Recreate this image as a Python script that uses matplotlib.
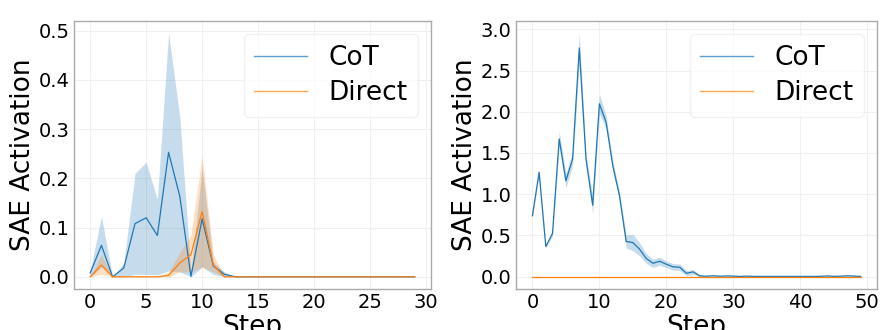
import numpy as np
import matplotlib
matplotlib.use("Agg")
import matplotlib.pyplot as plt

# ---- Left panel: 30 steps ----
steps_a = list(range(30))
cot_mean_a = [0.008, 0.064, 0.0, 0.018, 0.108, 0.120, 0.084, 0.253, 0.164, 0.001,
              0.118, 0.022, 0.005, 0.0] + [0.0] * 16
cot_lo_a = [0.0, 0.020, 0.0, 0.0, 0.005, 0.005, 0.004, 0.012, 0.010, 0.0,
            0.020, 0.005, 0.0, 0.0] + [0.0] * 16
cot_hi_a = [0.012, 0.123, 0.0, 0.028, 0.210, 0.233, 0.157, 0.495, 0.326, 0.010,
            0.220, 0.030, 0.010, 0.0] + [0.0] * 16
dir_mean_a = [0.0, 0.024, 0.0, 0.0, 0.0, 0.0, 0.0, 0.003, 0.028, 0.045,
              0.133, 0.024, 0.0] + [0.0] * 17
dir_lo_a = [0.0, 0.005, 0.0, 0.0, 0.0, 0.0, 0.0, 0.0, 0.010, 0.010,
            0.020, 0.010, 0.0] + [0.0] * 17
dir_hi_a = [0.0, 0.045, 0.0, 0.0, 0.0, 0.0, 0.0, 0.010, 0.050, 0.085,
            0.245, 0.045, 0.0] + [0.0] * 17

# ---- Right panel: 50 steps ----
steps_b = list(range(50))
cot_mean_b = [0.738, 1.265, 0.365, 0.523, 1.670, 1.163, 1.427, 2.773, 1.427, 0.867,
              2.096, 1.873, 1.346, 0.981, 0.426, 0.413, 0.332, 0.219, 0.162, 0.186,
              0.150, 0.118, 0.113, 0.040, 0.057, 0.008, 0.005, 0.010, 0.005, 0.008,
              0.006, 0.002, 0.006, 0.002, 0.002, 0.002, 0.002, 0.002, 0.002, 0.002,
              0.002, 0.002, 0.002, 0.003, 0.008, 0.003, 0.005, 0.010, 0.006, 0.002]
cot_err_b = [0.02, 0.03, 0.02, 0.03, 0.09, 0.09, 0.08, 0.18, 0.06, 0.10,
             0.12, 0.08, 0.06, 0.05, 0.08, 0.10, 0.08, 0.06, 0.05, 0.05,
             0.04, 0.04, 0.04, 0.03, 0.03, 0.01] + [0.005] * 24
dir_mean_b = [0.0] * 50
dir_err_b = [0.0] * 50

BLUE = "#1f77b4"
ORANGE = "#ff7f0e"

fig = plt.figure(figsize=(8.96, 3.30), dpi=100)
ax1 = fig.add_axes([0.0826, 0.1242, 0.3984, 0.8122])
ax2 = fig.add_axes([0.5759, 0.1242, 0.4029, 0.8122])


def style(ax):
    ax.grid(True, color="#f0f0f0", linewidth=0.8)
    ax.set_axisbelow(True)
    for s in ax.spines.values():
        s.set_color("#aaaaaa")
        s.set_linewidth(1.0)
    ax.tick_params(axis="both", length=0, pad=3, labelsize=14)
    ax.set_xlabel("Step", fontsize=19, labelpad=1)
    ax.set_ylabel("SAE Activation", fontsize=19, labelpad=2)
    leg = ax.legend(loc="upper right", fontsize=19, handlelength=2.0,
                    borderpad=0.4, labelspacing=0.35, handletextpad=0.8,
                    borderaxespad=0.5, framealpha=0.8, fancybox=True)
    leg.get_frame().set_edgecolor("#eeeeee")
    for line in leg.get_lines():
        line.set_linewidth(1.0)
        line.set_alpha(0.7)


# Left panel
ax1.fill_between(steps_a, cot_lo_a, cot_hi_a, color=BLUE, alpha=0.25, linewidth=0)
ax1.fill_between(steps_a, dir_lo_a, dir_hi_a, color=ORANGE, alpha=0.25, linewidth=0)
ax1.plot(steps_a, cot_mean_a, color=BLUE, lw=0.9, label="CoT")
ax1.plot(steps_a, dir_mean_a, color=ORANGE, lw=0.9, label="Direct")
ax1.set_xticks(range(0, 31, 5))
ax1.set_yticks(np.arange(0, 0.51, 0.1))
ax1.yaxis.set_major_formatter(matplotlib.ticker.FormatStrFormatter("%.1f"))
style(ax1)

# Right panel
cm = np.array(cot_mean_b)
ce = np.array(cot_err_b)
dm = np.array(dir_mean_b)
de = np.array(dir_err_b)
ax2.fill_between(steps_b, cm - ce, cm + ce, color=BLUE, alpha=0.25, linewidth=0)
ax2.fill_between(steps_b, dm - de, dm + de, color=ORANGE, alpha=0.25, linewidth=0)
ax2.plot(steps_b, cm, color=BLUE, lw=0.9, label="CoT")
ax2.plot(steps_b, dm, color=ORANGE, lw=0.9, label="Direct")
ax2.set_xticks(range(0, 51, 10))
ax2.set_yticks(np.arange(0, 3.01, 0.5))
ax2.yaxis.set_major_formatter(matplotlib.ticker.FormatStrFormatter("%.1f"))
style(ax2)

fig.savefig("out.png", dpi=100)
